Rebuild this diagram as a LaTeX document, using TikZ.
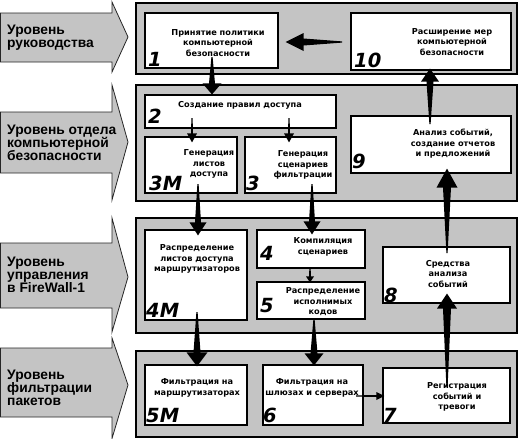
\documentclass[tikz,border=0pt]{standalone}
\usepackage{fontspec}
\setmainfont{DejaVu Sans}
\newfontfamily\lvlfont{Liberation Sans}
\usetikzlibrary{calc}
\tikzset{
  band/.style={draw=black, line width=1.3pt, fill=black!23},
  lvlarrow/.style={draw=black!85, line width=0.8pt, fill=black!23},
  box/.style={draw=black, line width=1.2pt, fill=white, inner sep=0pt},
  txt/.style={align=center, font=\bfseries\fontsize{8.2}{10.5}\selectfont, inner sep=0pt},
  lvl/.style={align=left, font=\lvlfont\bfseries\fontsize{13.8}{13.2}\selectfont, inner sep=0pt, anchor=west},
  num/.style={font=\bfseries\itshape\fontsize{19.5}{19.5}\selectfont, inner sep=0pt, anchor=base west},
}
% tapered arrow: #1 tail, #2 tip, #3 shaft half width at head, #4 head half width, #5 head length
\newcommand{\tarrow}[5]{%
  \coordinate (hbP) at ($(#2)!#5!(#1)$);
  \fill[black] ($(#1)!0.6pt!90:(#2)$) -- ($(hbP)!#3!90:(#2)$) -- ($(hbP)!#4!90:(#2)$) -- (#2)
    -- ($(hbP)!#4!-90:(#2)$) -- ($(hbP)!#3!-90:(#2)$) -- ($(#1)!0.6pt!-90:(#2)$) -- cycle;
}
\begin{document}
\begin{tikzpicture}[x=1pt,y=-1pt]
\useasboundingbox (0,0) rectangle (520,439);

% level arrows
\draw[lvlarrow] (0.5,13) -- (112,13) -- (112,2) -- (128,37) -- (112,72) -- (112,62) -- (0.5,62) -- cycle;
\draw[lvlarrow] (0.5,112) -- (112,112) -- (112,85) -- (128,142) -- (112,200) -- (112,173) -- (0.5,173) -- cycle;
\draw[lvlarrow] (0.5,243) -- (112,243) -- (112,218) -- (128,277) -- (112,332) -- (112,308) -- (0.5,308) -- cycle;
\draw[lvlarrow] (0.5,348) -- (112,348) -- (112,338) -- (128,385) -- (112,438.5) -- (112,417) -- (0.5,417) -- cycle;

\node[lvl] (L1) at (7,37.5) {Уровень\\руководства};
\node[lvl] (L2) at (7,143) {Уровень отдела\\компьютерной\\безопасности};
\node[lvl] (L3) at (7,275) {Уровень\\управления\\в FireWall-1};
\node[lvl] (L4) at (7,388) {Уровень\\фильтрации\\пакетов};

% bands
\draw[band] (136,3) rectangle (517,74);
\draw[band] (136,85) rectangle (517,201);
\draw[band] (136,218) rectangle (517,333);
\draw[band] (136,351) rectangle (517,437);

% boxes
\node[box, minimum width=133pt, minimum height=55pt] (b1) at (211.5,40.5) {};
\node[box, minimum width=160pt, minimum height=57pt] (b10) at (431,41.5) {};
\node[box, minimum width=191pt, minimum height=33pt] (b2) at (240.5,111.5) {};
\node[box, minimum width=92pt, minimum height=56pt] (b3M) at (191,165) {};
\node[box, minimum width=91pt, minimum height=56pt] (b3) at (290.5,165) {};
\node[box, minimum width=160pt, minimum height=57pt] (b9) at (431,144.5) {};
\node[box, minimum width=102pt, minimum height=90pt] (b4M) at (196,275) {};
\node[box, minimum width=108pt, minimum height=38pt] (b4) at (311,249) {};
\node[box, minimum width=108pt, minimum height=37pt] (b5) at (311,300.5) {};
\node[box, minimum width=127pt, minimum height=56pt] (b8) at (446.5,275) {};
\node[box, minimum width=102pt, minimum height=60pt] (b5M) at (196,395) {};
\node[box, minimum width=100pt, minimum height=60pt] (b6) at (313,395) {};
\node[box, minimum width=127pt, minimum height=55pt] (b7) at (446.5,395.5) {};

% texts
\node[txt] (t1) at (218,43) {Принятие политики\\компьютерной\\безопасности};
\node[txt] (t10) at (452,42) {Расширение мер\\компьютерной\\безопасности};
\node[txt] (t2) at (240,105) {Создание правил доступа};
\node[txt] (t3M) at (209,164) {Генерация\\листов\\доступа};
\node[txt] (t3) at (303,165) {Генерация\\сценариев\\фильтрации};
\node[txt] (t9) at (453,144) {Анализ событий,\\создание отчетов\\и предложений};
\node[txt] (t4M) at (197,259) {Распределение\\листов доступа\\маршрутизаторов};
\node[txt] (t4) at (323,247) {Компиляция\\сценариев};
\node[txt] (t5) at (323,302) {Распределение\\исполнимых\\кодов};
\node[txt] (t8) at (448,274) {Средства\\анализа\\событий};
\node[txt] (t5M) at (197,388) {Фильтрация на\\маршрутизаторах};
\node[txt] (t6) at (312,388) {Фильтрация на\\шлюзах и серверах};
\node[txt] (t7) at (457,397) {Регистрация\\событий и\\тревоги};

% numbers
\node[num] (n1) at (148,66) {1};
\node[num] (n10) at (354,67) {10};
\node[num] (n2) at (148,123) {2};
\node[num] (n3M) at (149,190) {3M};
\node[num] (n3) at (246,190) {3};
\node[num] (n9) at (352,168) {9};
\node[num] (n4M) at (146,317) {4M};
\node[num] (n4) at (260,260) {4};
\node[num] (n5) at (260,312) {5};
\node[num] (n8) at (384,302) {8};
\node[num] (n5M) at (146,422) {5M};
\node[num] (n6) at (263,422) {6};
\node[num] (n7) at (383,422) {7};

% connectors
\coordinate (s10) at (342,42);  \coordinate (e10) at ($(b1.east|-s10)+(7,0)$);
\tarrow{s10}{e10}{3.5pt}{9pt}{18pt}
\coordinate (s1) at (212,57);   \coordinate (e1) at (s1|-b2.north);
\tarrow{s1}{e1}{3pt}{9.5pt}{11pt}
\coordinate (s2a) at (192,118); \coordinate (e2a) at ($(s2a|-b3M.north)+(0,6)$);
\tarrow{s2a}{e2a}{1pt}{5pt}{9pt}
\coordinate (s2b) at (289,118); \coordinate (e2b) at ($(s2b|-b3.north)+(0,6)$);
\tarrow{s2b}{e2b}{1pt}{5pt}{9pt}
\coordinate (s9) at (430,124);  \coordinate (e9) at ($(s9|-b10.south)+(0,-2)$);
\tarrow{s9}{e9}{3.5pt}{9pt}{13pt}
\coordinate (s3M) at (198,184); \coordinate (e3M) at ($(s3M|-b4M.north)+(0,6)$);
\tarrow{s3M}{e3M}{3pt}{8.5pt}{13pt}
\coordinate (s3) at (312,184);  \coordinate (e3) at ($(s3|-b4.north)+(0,5)$);
\tarrow{s3}{e3}{3pt}{8.5pt}{13pt}
\coordinate (s8) at (447,253);  \coordinate (e8) at ($(s8|-b9.south)+(0,-5)$);
\tarrow{s8}{e8}{4pt}{10.5pt}{19pt}
\coordinate (s4) at (310,268);  \coordinate (e4) at ($(s4|-b5.north)+(0,1)$);
\tarrow{s4}{e4}{1pt}{4pt}{6pt}
\coordinate (s4M) at (197,312); \coordinate (e4M) at ($(s4M|-b5M.north)+(0,2)$);
\tarrow{s4M}{e4M}{3.5pt}{10.5pt}{14pt}
\coordinate (s5) at (314,319);  \coordinate (e5) at ($(s5|-b6.north)+(0,1)$);
\tarrow{s5}{e5}{3.5pt}{9.5pt}{12pt}
\coordinate (s7) at (447,387);  \coordinate (e7) at ($(s7|-b8.south)+(0,-10)$);
\tarrow{s7}{e7}{4pt}{10pt}{15pt}
\coordinate (s6) at (356,396);  \coordinate (e6) at ($(b7.west|-s6)+(2,0)$);
\tarrow{s6}{e6}{1pt}{4pt}{8pt}
\end{tikzpicture}
\end{document}
